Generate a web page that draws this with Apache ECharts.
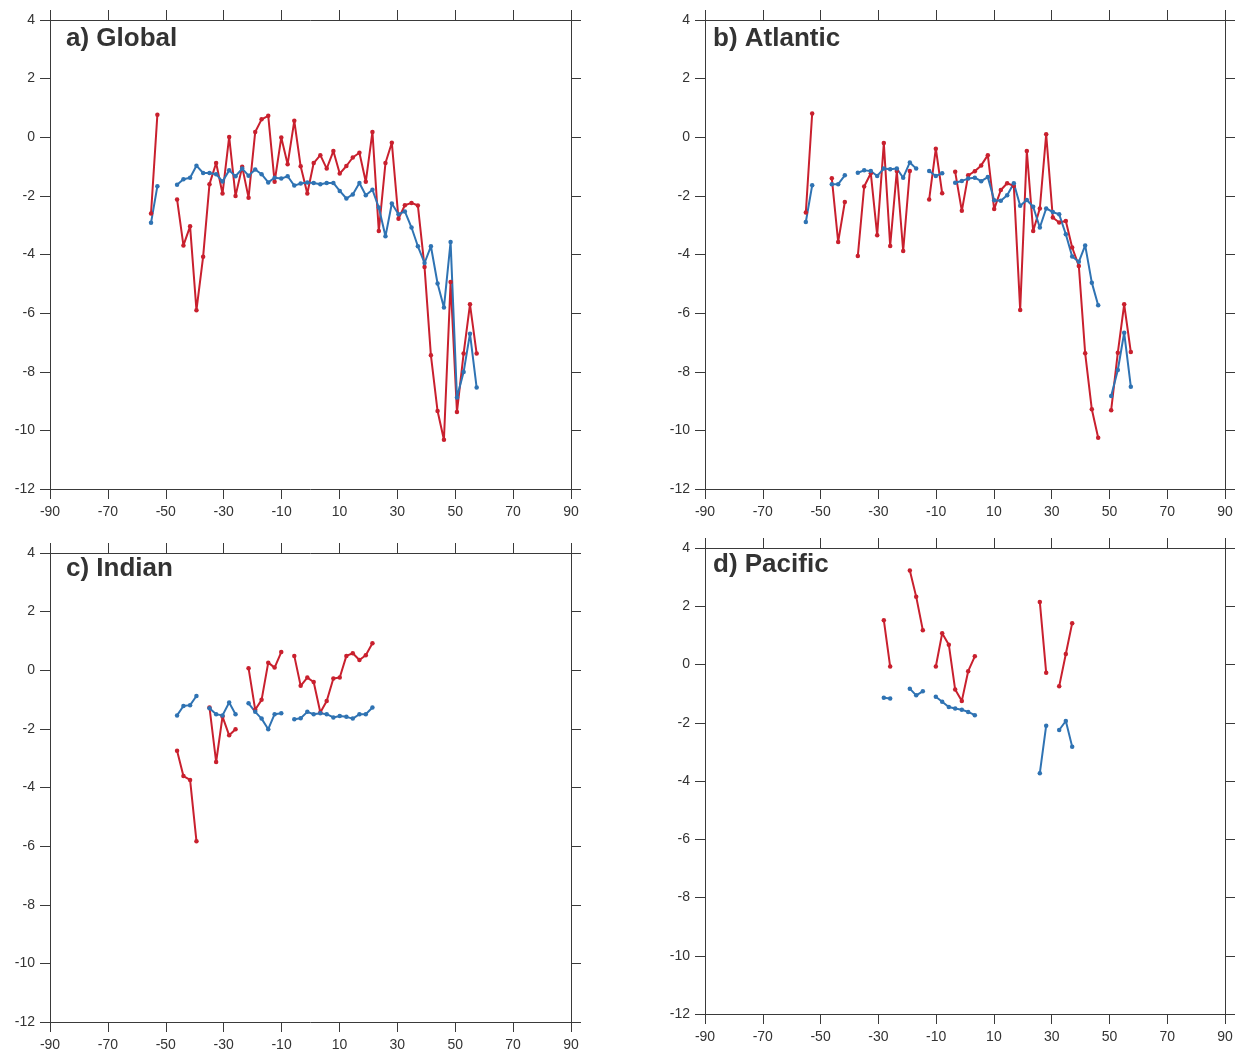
<!DOCTYPE html>
<html>
<head>
<meta charset="utf-8">
<script src="https://cdn.jsdelivr.net/npm/echarts@6/dist/echarts.min.js"></script>
<style>
  html, body { margin: 0; padding: 0; background: #fff; }
  #chart { width: 1239px; height: 1053px; }
</style>
</head>
<body>
<div id="chart"></div>
<script>
// Latitude bin centres (degrees)
const latitudes = [-55.1, -52.9, -50.6, -48.4, -46.1, -43.9, -41.6, -39.4, -37.1, -34.9,
  -32.6, -30.4, -28.1, -25.9, -23.6, -21.4, -19.1, -16.9, -14.6, -12.4,
  -10.1, -7.9, -5.6, -3.4, -1.1, 1.1, 3.4, 5.6, 7.9, 10.1,
  12.4, 14.6, 16.9, 19.1, 21.4, 23.6, 25.9, 28.1, 30.4, 32.6,
  34.9, 37.1, 39.4, 41.6, 43.9, 46.1, 48.4, 50.6, 52.9, 55.1, 57.4];

const panelTitles = ['a) Global', 'b) Atlantic', 'c) Indian', 'd) Pacific'];
const xTicks = [-90, -70, -50, -30, -10, 10, 30, 50, 70, 90];
const yTicks = [-12, -10, -8, -6, -4, -2, 0, 2, 4];

// a) Global
const globalBlue = [-2.92, -1.67, null, null, -1.62, -1.43, -1.38, -0.97, -1.22, -1.22,
  -1.26, -1.51, -1.13, -1.33, -1.07, -1.31, -1.10, -1.26, -1.54, -1.38,
  -1.41, -1.33, -1.65, -1.58, -1.54, -1.56, -1.60, -1.56, -1.56, -1.83,
  -2.09, -1.95, -1.56, -1.98, -1.79, -2.40, -3.38, -2.26, -2.63, -2.53,
  -3.08, -3.72, -4.29, -3.72, -4.99, -5.81, -3.57, -8.88, -8.01, -6.70, -8.54];
const globalRed = [-2.60, 0.77, null, null, -2.12, -3.69, -3.04, -5.90, -4.08, -1.60,
  -0.88, -1.92, 0.01, -2.00, -1.01, -2.06, 0.18, 0.61, 0.73, -1.52,
  -0.01, -0.92, 0.56, -0.99, -1.92, -0.88, -0.61, -1.07, -0.47, -1.24,
  -0.98, -0.69, -0.53, -1.52, 0.18, -3.20, -0.88, -0.19, -2.78, -2.32,
  -2.24, -2.33, -4.43, -7.44, -9.34, -10.32, -4.94, -9.37, -7.38, -5.70, -7.38];

// b) Atlantic
const atlanticBlue = [-2.89, -1.64, null, null, -1.60, -1.60, -1.30, null, -1.21, -1.13,
  -1.15, -1.32, -1.07, -1.09, -1.07, -1.38, -0.86, -1.07, null, -1.15,
  -1.32, -1.23, null, -1.55, -1.49, -1.41, -1.38, -1.50, -1.36, -2.15,
  -2.17, -1.98, -1.57, -2.34, -2.14, -2.37, -3.08, -2.43, -2.55, -2.63,
  -3.31, -4.07, -4.25, -3.69, -4.96, -5.73, null, -8.83, -7.94, -6.67, -8.51];
const atlanticRed = [-2.57, 0.81, null, null, -1.40, -3.57, -2.21, null, -4.05, -1.68,
  -1.23, -3.34, -0.20, -3.71, -1.15, -3.88, -1.15, null, null, -2.12,
  -0.39, -1.91, null, -1.18, -2.51, -1.30, -1.16, -0.96, -0.61, -2.45,
  -1.80, -1.57, -1.66, -5.89, -0.47, -3.20, -2.43, 0.10, -2.74, -2.91,
  -2.86, -3.76, -4.39, -7.37, -9.28, -10.25, null, -9.31, -7.35, -5.70, -7.33];

// c) Indian
const indianBlue = [null, null, null, null, -1.54, -1.22, -1.19, -0.88, null, -1.30,
  -1.50, -1.54, -1.10, -1.50, null, -1.13, -1.42, -1.65, -2.01, -1.50,
  -1.47, null, -1.67, -1.64, -1.42, -1.50, -1.47, -1.50, -1.61, -1.56,
  -1.59, -1.65, -1.50, -1.50, -1.27, null, null, null, null, null,
  null, null, null, null, null, null, null, null, null, null, null];
const indianRed = [null, null, null, null, -2.75, -3.61, -3.74, -5.83, null, -1.27,
  -3.13, -1.58, -2.22, -2.01, null, 0.07, -1.35, -1.01, 0.26, 0.09,
  0.62, null, 0.49, -0.53, -0.25, -0.40, -1.44, -1.05, -0.28, -0.25,
  0.49, 0.58, 0.35, 0.51, 0.92, null, null, null, null, null,
  null, null, null, null, null, null, null, null, null, null, null];

// d) Pacific
const pacificBlue = [null, null, null, null, null, null, null, null, null, null,
  null, null, -1.14, -1.17, null, null, -0.83, -1.06, -0.92, null,
  -1.11, -1.28, -1.46, -1.51, -1.55, -1.63, -1.74, null, null, null,
  null, null, null, null, null, null, -3.73, -2.10, null, -2.25,
  -1.94, -2.82, null, null, null, null, null, null, null, null, null];
const pacificRed = [null, null, null, null, null, null, null, null, null, null,
  null, null, 1.52, -0.07, null, null, 3.23, 2.33, 1.18, null,
  -0.07, 1.07, 0.68, -0.86, -1.25, -0.23, 0.28, null, null, null,
  null, null, null, null, null, null, 2.15, -0.28, null, -0.75,
  0.36, 1.42, null, null, null, null, null, null, null, null, null];

const panelRed = [globalRed, atlanticRed, indianRed, pacificRed];
const panelBlue = [globalBlue, atlanticBlue, indianBlue, pacificBlue];

const RED = '#c9202e';
const BLUE = '#2f73b3';
const AX = '#3a3a3a';
const FONT = '"Liberation Sans", Arial, Helvetica, sans-serif';

const grids = [
  { left: 50, top: 20, width: 521, height: 469 },
  { left: 705, top: 20, width: 520, height: 469 },
  { left: 50, top: 553, width: 521, height: 469 },
  { left: 705, top: 548, width: 520, height: 466 }
];
const titlePos = [
  { left: 66, top: 26 },
  { left: 713, top: 26 },
  { left: 66, top: 556 },
  { left: 713, top: 552 }
];

const xAxes = [], yAxes = [], series = [], titles = [];
grids.forEach((g, i) => {
  const common = () => ({
    axisLine: { show: true, onZero: false, lineStyle: { color: AX, width: 1 } },
    axisTick: { show: true, length: 10, inside: false, lineStyle: { color: AX, width: 1 } },
    splitLine: { show: false }
  });
  xAxes.push(Object.assign(common(), {
    type: 'value', gridIndex: i, position: 'bottom', min: xTicks[0], max: xTicks[xTicks.length - 1], interval: 20,
    axisLabel: { show: true, margin: 16, fontSize: 14, color: '#333', fontFamily: FONT }
  }));
  xAxes.push(Object.assign(common(), {
    type: 'value', gridIndex: i, position: 'top', min: xTicks[0], max: xTicks[xTicks.length - 1], interval: 20,
    axisLabel: { show: false }
  }));
  yAxes.push(Object.assign(common(), {
    type: 'value', gridIndex: i, position: 'left', min: yTicks[0], max: yTicks[yTicks.length - 1], interval: 2,
    axisLabel: { show: true, margin: 15, fontSize: 14, color: '#333', fontFamily: FONT }
  }));
  yAxes.push(Object.assign(common(), {
    type: 'value', gridIndex: i, position: 'right', min: yTicks[0], max: yTicks[yTicks.length - 1], interval: 2,
    axisLabel: { show: false }
  }));
  const mk = (vals, color, name) => ({
    name: name, type: 'line', xAxisIndex: 2 * i, yAxisIndex: 2 * i,
    data: latitudes.map((x, k) => [x, vals[k] == null ? '-' : vals[k]]),
    connectNulls: false, symbol: 'circle', symbolSize: 4.5, showSymbol: true,
    lineStyle: { color: color, width: 2 }, itemStyle: { color: color },
    emphasis: { disabled: true }, animation: false
  });
  series.push(mk(panelRed[i], RED, 'red' + i));
  series.push(mk(panelBlue[i], BLUE, 'blue' + i));
  titles.push({ text: panelTitles[i], left: titlePos[i].left, top: titlePos[i].top, padding: 0,
    textStyle: { fontSize: 26, fontWeight: 'bold', color: '#333', fontFamily: FONT } });
});

const chart = echarts.init(document.getElementById('chart'), null, { renderer: 'canvas' });
chart.setOption({
  animation: false,
  backgroundColor: '#fff',
  title: titles,
  grid: grids,
  xAxis: xAxes,
  yAxis: yAxes,
  series: series
});
</script>
</body>
</html>
